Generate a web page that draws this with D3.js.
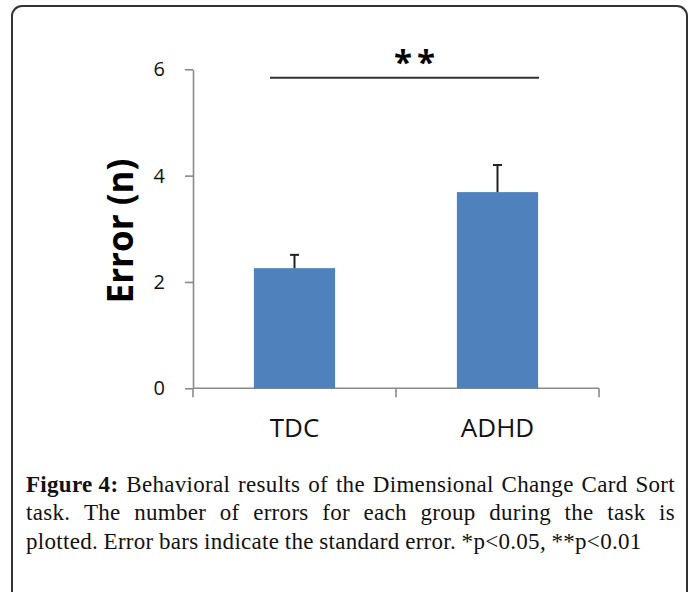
<!DOCTYPE html>
<html>
<head>
<meta charset="utf-8">
<script src="https://cdn.jsdelivr.net/npm/d3@7"></script>
<style>
  body { margin: 0; background: #fff; }
  svg { display: block; }
</style>
</head>
<body>
<figure id="chart" style="margin:0"></figure>
<script>
// data
const groups = ["TDC", "ADHD"];
const errors = [2.26, 3.69];
const stdErr = [0.25, 0.51];
const yTicks = [0, 2, 4, 6];
const yLabel = "Error (n)";
const sigLabel = "**";
const sigLevel = 5.84;
const captionLines = [
  ["Figure 4:", "Behavioral results of the Dimensional Change Card Sort"],
  ["", "task. The number of errors for each group during the task is"],
  ["", "plotted. Error bars indicate the standard error. *p<0.05, **p<0.01"]
];

const W = 693, H = 592;
const svg = d3.select("#chart").append("svg")
  .attr("width", W).attr("height", H);

// frame
svg.append("rect")
  .attr("x", 12).attr("y", 6)
  .attr("width", 675).attr("height", 640)
  .attr("rx", 10)
  .attr("fill", "none")
  .attr("stroke", "#333").attr("stroke-width", 2);

const x = d3.scaleBand().domain(groups).range([193, 599]);
const y = d3.scaleLinear().domain([0, 6]).range([388.3, 69.3]);
const axisColor = "#8a8a8a";

// y axis
const yAxis = svg.append("g")
  .attr("transform", "translate(193,0)")
  .call(d3.axisLeft(y).tickValues(yTicks).tickFormat(d3.format("d"))
    .tickSize(8).tickSizeOuter(0).tickPadding(20));
yAxis.selectAll("path, line").attr("stroke", axisColor).attr("stroke-width", 1.6);
yAxis.selectAll("text")
  .attr("font-family", "'Open Sans', sans-serif")
  .attr("font-size", 20).attr("fill", "#111");

// x axis
svg.append("line")
  .attr("x1", x.range()[0]).attr("x2", x.range()[1])
  .attr("y1", y(0)).attr("y2", y(0))
  .attr("stroke", axisColor).attr("stroke-width", 1.6);
const bounds = groups.map(g => x(g)).concat([x.range()[1]]);
svg.append("g").selectAll("line")
  .data(bounds).enter().append("line")
  .attr("x1", d => d).attr("x2", d => d)
  .attr("y1", y(0)).attr("y2", y(0) + 9)
  .attr("stroke", axisColor).attr("stroke-width", 1.6);
const xAxis = svg.append("g")
  .attr("transform", "translate(0," + y(0) + ")")
  .call(d3.axisBottom(x).tickSize(0).tickPadding(30));
xAxis.select(".domain").remove();
xAxis.selectAll("text")
  .attr("font-family", "'Open Sans', sans-serif")
  .attr("font-size", 26).attr("fill", "#111");

// bars
const barW = x.bandwidth() * 0.4;
const data = groups.map((g, i) => ({ g: g, v: errors[i], se: stdErr[i] }));
svg.append("g").selectAll("rect")
  .data(data).enter().append("rect")
  .attr("x", d => x(d.g) + x.bandwidth() / 2 - barW / 2)
  .attr("y", d => y(d.v))
  .attr("width", barW)
  .attr("height", d => y(0) - y(d.v))
  .attr("fill", "#4f81bd");

// error bars (upper only)
const eb = svg.append("g").attr("stroke", "#222").attr("stroke-width", 2);
eb.selectAll(".stem").data(data).enter().append("line")
  .attr("x1", d => x(d.g) + x.bandwidth() / 2)
  .attr("x2", d => x(d.g) + x.bandwidth() / 2)
  .attr("y1", d => y(d.v))
  .attr("y2", d => y(d.v + d.se));
eb.selectAll(".cap").data(data).enter().append("line")
  .attr("x1", d => x(d.g) + x.bandwidth() / 2 - 4.5)
  .attr("x2", d => x(d.g) + x.bandwidth() / 2 + 4.5)
  .attr("y1", d => y(d.v + d.se))
  .attr("y2", d => y(d.v + d.se));

// significance line
svg.append("line")
  .attr("x1", 270).attr("x2", 539)
  .attr("y1", y(sigLevel)).attr("y2", y(sigLevel))
  .attr("stroke", "#333").attr("stroke-width", 2);
svg.append("text")
  .attr("x", 417).attr("y", 74)
  .attr("text-anchor", "middle")
  .attr("font-family", "'Open Sans', sans-serif")
  .attr("font-weight", "bold")
  .attr("font-size", 33)
  .attr("letter-spacing", 5)
  .text(sigLabel);

// y label
svg.append("text")
  .attr("transform", "translate(133,231) rotate(-90)")
  .attr("text-anchor", "middle")
  .attr("font-family", "'Open Sans', sans-serif")
  .attr("font-weight", "bold")
  .attr("font-size", 35)
  .attr("fill", "#000")
  .text(yLabel);

// caption, justified word by word
const capLeft = 26, capRight = 675, capTop = 492, lineGap = 28.3;
const cap = svg.append("g")
  .attr("font-family", "'Liberation Serif', serif")
  .attr("font-size", 23)
  .attr("letter-spacing", 0.3)
  .attr("fill", "#111");
captionLines.forEach((ln, li) => {
  const words = [];
  if (ln[0]) words.push({ t: ln[0], b: true });
  ln[1].split(" ").forEach(w => words.push({ t: w, b: false }));
  const yy = capTop + li * lineGap;
  const nodes = words.map(w => cap.append("text")
    .attr("y", yy)
    .attr("font-weight", w.b ? "bold" : "normal")
    .text(w.t));
  const widths = nodes.map(n => n.node().getComputedTextLength());
  const total = d3.sum(widths);
  const last = li === captionLines.length - 1;
  const gap = last ? 5.5 : (capRight - capLeft - total) / (words.length - 1);
  let cx = capLeft;
  nodes.forEach((n, i) => { n.attr("x", cx); cx += widths[i] + gap; });
});
</script>
</body>
</html>
